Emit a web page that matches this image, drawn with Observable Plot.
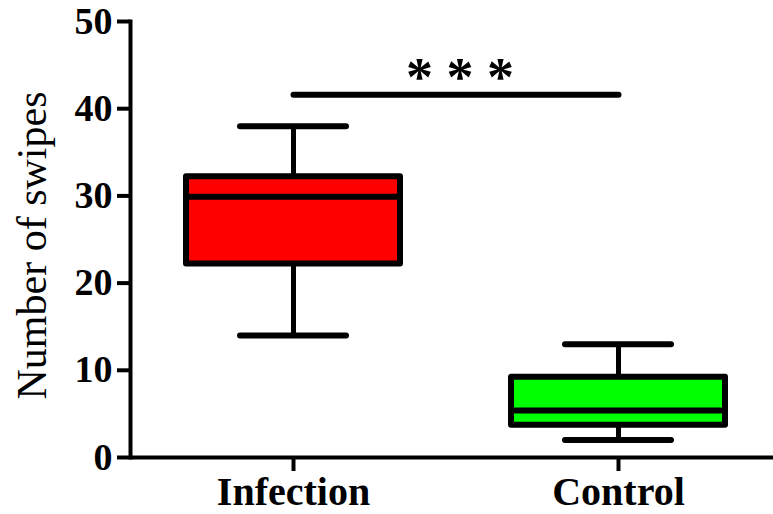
<!DOCTYPE html>
<html>
<head>
<meta charset="utf-8">
<script src="https://cdn.jsdelivr.net/npm/d3@7"></script>
<script src="https://cdn.jsdelivr.net/npm/@observablehq/plot@0.6"></script>
<style>
  html, body { margin: 0; padding: 0; background: #fff; }
  svg { display: block; }
</style>
</head>
<body>
<div id="chart"></div>
<script>
// Data
const groups = ["Infection", "Control"];
const colors = ["#ff0000", "#00ff00"];
const whiskerLow = [14, 2];
const q1 = [22.2, 3.7];
const median = [29.9, 5.4];
const q3 = [32.2, 9.2];
const whiskerHigh = [38, 13];
const yTicks = [0, 10, 20, 30, 40, 50];
const sigLevel = 41.6;
const sigLabel = "* * *";
const yLabel = "Number of swipes";

const rows = groups.map((g, i) => ({
  group: g, color: colors[i], lo: whiskerLow[i], q1: q1[i], med: median[i], q3: q3[i], hi: whiskerHigh[i]
}));

const serif = "Liberation Serif, Times New Roman, serif";

const chart = Plot.plot({
  width: 773,
  height: 514,
  marginLeft: 130,
  marginRight: 0,
  marginTop: 21,
  marginBottom: 57,
  style: { fontFamily: serif, background: "#fff", color: "#000" },
  x: { domain: groups, range: [131, 781], paddingInner: 0.34, paddingOuter: 0.17, axis: null },
  y: { domain: [0, 50], axis: null },
  color: { type: "identity" },
  marks: [
    // whiskers
    Plot.ruleX(rows, { x: "group", y1: "lo", y2: "hi", stroke: "#000", strokeWidth: 5 }),
    // boxes
    Plot.barY(rows, { x: "group", y1: "q1", y2: "q3", fill: "color", stroke: "#000", strokeWidth: 6, strokeLinejoin: "round" }),
    // medians
    Plot.tickY(rows, { x: "group", y: "med", stroke: "#000", strokeWidth: 6 }),
    // whisker caps
    Plot.tickY(rows, { x: "group", y: "lo", stroke: "#000", strokeWidth: 6, strokeLinecap: "round", insetLeft: 54, insetRight: 54 }),
    Plot.tickY(rows, { x: "group", y: "hi", stroke: "#000", strokeWidth: 6, strokeLinecap: "round", insetLeft: 54, insetRight: 54 }),
    // significance bar
    Plot.link([{ a: groups[0], b: groups[1], y: sigLevel }], {
      x1: "a", x2: "b", y1: "y", y2: "y", stroke: "#000", strokeWidth: 6, strokeLinecap: "round"
    }),
    Plot.text([sigLabel], {
      y: () => sigLevel, text: (d) => d, dx: 8, dy: 0, lineAnchor: "bottom",
      fontSize: 54, fontWeight: "bold", fontFamily: serif, fill: "#000"
    }),
    // axes
    Plot.ruleY([0], { stroke: "#000", strokeWidth: 4 }),
    Plot.frame({ anchor: "left", stroke: "#000", strokeWidth: 4 }),
    Plot.axisY({
      ticks: yTicks, tickSize: 13, tickPadding: 5, strokeWidth: 4, label: null,
      fontSize: 38, fontWeight: "bold", fontFamily: serif, fill: "#000"
    }),
    Plot.axisX({
      tickSize: 14, tickPadding: 5, strokeWidth: 4, label: null,
      fontSize: 40, fontWeight: "bold", fontFamily: serif, fill: "#000"
    }),
    Plot.text([yLabel], {
      frameAnchor: "left", rotate: -90, dx: -98, dy: 6, text: (d) => d,
      fontSize: 42, fontFamily: serif, fill: "#000", textAnchor: "middle", lineAnchor: "middle"
    })
  ]
});

document.getElementById("chart").append(chart);
</script>
</body>
</html>
